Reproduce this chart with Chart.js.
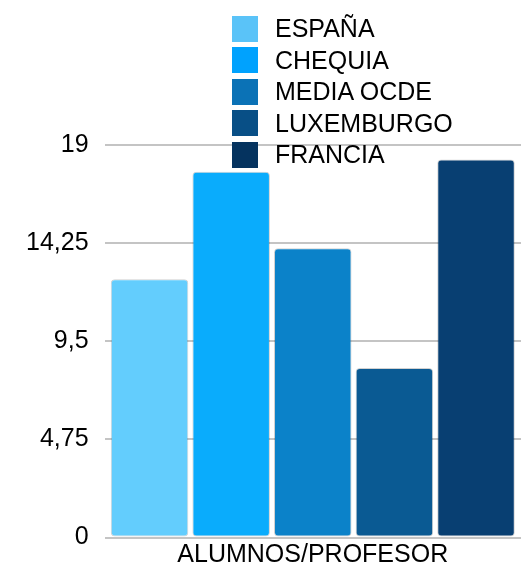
<!DOCTYPE html>
<html>
<head>
<meta charset="utf-8">
<script src="https://cdn.jsdelivr.net/npm/chart.js@4.4.0/dist/chart.umd.min.js"></script>
<style>
	body{ margin:0; background:#fff; }
	#chart_container{ position:relative; width:525px; height:575px; }
	#legend_div{ position:absolute; left:232px; top:13px; font-family:"Liberation Sans", Arial, sans-serif; font-size:25px; color:#000; }
	.legend_row{ height:31.5px; display:flex; align-items:center; }
	.legend_box{ width:26px; height:26px; margin-right:17px; }
</style>
</head>
<body>
<div id="chart_container">
	<canvas id="chart_main" width="525" height="575"></canvas>
	<div id="legend_div"></div>
</div>
<script>
var categories = ['ALUMNOS/PROFESOR'];
var countries = ['ESPAÑA', 'CHEQUIA', 'MEDIA OCDE', 'LUXEMBURGO', 'FRANCIA'];
var ratios = [12.5, 17.7, 14, 8.2, 18.3];
var yTicks = [0, 4.75, 9.5, 14.25, 19];

var barColors = ['#63cdfd', '#0aacfc', '#0b82c9', '#0a5a93', '#083f72'];
var boxColors = ['#5ac3f8', '#00a2fe', '#0b72b6', '#084f86', '#05335f'];

function buildDatasets(){
	var datasets = [];
	for(var i = 0; i < countries.length; i++){
		datasets.push({
			label: countries[i],
			data: [ratios[i]],
			backgroundColor: barColors[i],
			borderColor: 'rgba(0,0,0,0.18)',
			borderWidth: 1,
			borderRadius: 4,
			borderSkipped: false
		});
	}
	return datasets;
}

function buildLegend(){
	var html = '';
	for(var i = 0; i < countries.length; i++){
		html += '<div class="legend_row"><div class="legend_box" style="background:'+boxColors[i]+'"></div>'+countries[i]+'</div>';
	}
	document.getElementById('legend_div').innerHTML = html;
}

function drawChart(){
	var ctx = document.getElementById('chart_main').getContext('2d');
	var myChart = new Chart(ctx, {
		type: 'bar',
		data: {
			labels: categories,
			datasets: buildDatasets()
		},
		options: {
			responsive: false,
			animation: false,
			layout: { padding: { top: 145, right: 4, left: 10, bottom: 2 } },
			plugins: {
				legend: { display: false },
				tooltip: { enabled: false }
			},
			datasets: {
				bar: { categoryPercentage: 0.98, barPercentage: 0.95 }
			},
			scales: {
				x: {
					grid: { display: false, drawTicks: false },
					border: { display: false },
					ticks: {
						color: '#000',
						padding: 4,
						font: { family: '"Liberation Sans", Arial, sans-serif', size: 25, lineHeight: 1.1 }
					}
				},
				y: {
					min: 0,
					max: 19,
					afterBuildTicks: function(axis){
						axis.ticks = yTicks.map(function(v){ return { value: v }; });
					},
					grid: { color: '#c4c4c4', lineWidth: 2, drawTicks: false },
					border: { display: false },
					ticks: {
						color: '#000',
						padding: 16,
						font: { family: '"Liberation Sans", Arial, sans-serif', size: 25 },
						callback: function(value){ return String(value).replace('.', ','); }
					}
				}
			}
		}
	});
}

buildLegend();
drawChart();
</script>
</body>
</html>
